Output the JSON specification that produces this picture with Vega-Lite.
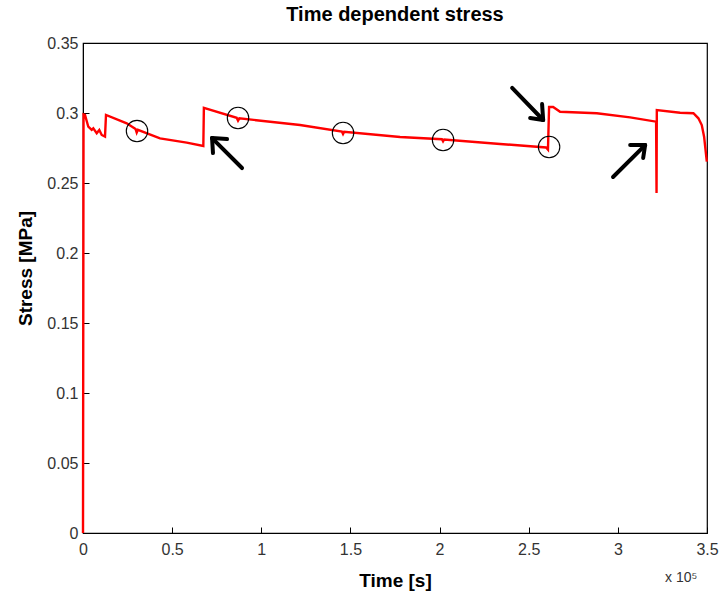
{
  "$schema": "https://vega.github.io/schema/vega-lite/v6.json",
  "width": 624,
  "height": 490,
  "autosize": {"type": "none"},
  "padding": {"left": 83, "top": 43, "right": 16, "bottom": 66},
  "background": "white",
  "config": {
    "view": {"stroke": "black", "strokeWidth": 1.2},
    "font": "Liberation Sans",
    "axis": {
      "domainColor": "black",
      "tickColor": "black",
      "tickSize": -6,
      "grid": false,
      "labelFlush": false,
      "labelFont": "Liberation Sans",
      "labelFontSize": 16,
      "labelColor": "#333333",
      "titleFont": "Liberation Sans",
      "titleFontWeight": "bold",
      "titleColor": "black",
      "titleFontSize": 19
    }
  },
  "title": {
    "text": "Time dependent stress",
    "font": "Liberation Sans",
    "fontSize": 20,
    "fontWeight": "bold",
    "color": "black",
    "offset": 10,
    "anchor": "middle"
  },
  "datasets": {
    "stress": [
      {"t": 0, "s": 0},
      {"t": 300, "s": 0.2990},
      {"t": 1122, "s": 0.2986},
      {"t": 2973, "s": 0.2902},
      {"t": 4881, "s": 0.2879},
      {"t": 5778, "s": 0.2890},
      {"t": 7686, "s": 0.2855},
      {"t": 9144, "s": 0.2879},
      {"t": 10491, "s": 0.2843},
      {"t": 12342, "s": 0.2831},
      {"t": 12900, "s": 0.2986},
      {"t": 24516, "s": 0.2926},
      {"t": 29500, "s": 0.2885},
      {"t": 30126, "s": 0.2860},
      {"t": 30800, "s": 0.2880},
      {"t": 43197, "s": 0.2819},
      {"t": 58176, "s": 0.2788},
      {"t": 67488, "s": 0.2764},
      {"t": 67800, "s": 0.3036},
      {"t": 86200, "s": 0.2966},
      {"t": 86955, "s": 0.2945},
      {"t": 87700, "s": 0.2962},
      {"t": 121737, "s": 0.2914},
      {"t": 145200, "s": 0.2868},
      {"t": 145860, "s": 0.2850},
      {"t": 146500, "s": 0.2866},
      {"t": 177837, "s": 0.2829},
      {"t": 201300, "s": 0.2813},
      {"t": 201960, "s": 0.2798},
      {"t": 202600, "s": 0.2811},
      {"t": 233937, "s": 0.2779},
      {"t": 259743, "s": 0.2754},
      {"t": 260800, "s": 0.2738},
      {"t": 261426, "s": 0.3043},
      {"t": 263700, "s": 0.3043},
      {"t": 267597, "s": 0.3009},
      {"t": 288186, "s": 0.2998},
      {"t": 306867, "s": 0.2969},
      {"t": 321453, "s": 0.2938},
      {"t": 321700, "s": 0.2429},
      {"t": 321850, "s": 0.3021},
      {"t": 334917, "s": 0.3002},
      {"t": 342381, "s": 0.2998},
      {"t": 345177, "s": 0.2962},
      {"t": 347064, "s": 0.2914},
      {"t": 348372, "s": 0.2831},
      {"t": 349887, "s": 0.2652}
    ],
    "circles": [
      {"t": 30294, "s": 0.2871},
      {"t": 86955, "s": 0.2964},
      {"t": 145860, "s": 0.2857},
      {"t": 201960, "s": 0.2807},
      {"t": 261426, "s": 0.2757}
    ],
    "arrows": [
      {"t1": 89200, "s1": 0.2607, "t2": 72400, "s2": 0.2821},
      {"t1": 72400, "s1": 0.2821, "t2": 80800, "s2": 0.2814},
      {"t1": 72400, "s1": 0.2821, "t2": 72900, "s2": 0.2714},
      {"t1": 240700, "s1": 0.3179, "t2": 258100, "s2": 0.2950},
      {"t1": 258100, "s1": 0.2950, "t2": 257500, "s2": 0.3064},
      {"t1": 258100, "s1": 0.2950, "t2": 250800, "s2": 0.2964},
      {"t1": 297300, "s1": 0.2543, "t2": 315300, "s2": 0.2771},
      {"t1": 315300, "s1": 0.2771, "t2": 306900, "s2": 0.2771},
      {"t1": 315300, "s1": 0.2771, "t2": 314200, "s2": 0.2679}
    ],
    "note": [
      {"t": 326500, "s": -0.0321, "label": "x 10⁵"}
    ]
  },
  "layer": [
    {
      "data": {"name": "stress"},
      "mark": {"type": "line", "color": "#ff0000", "strokeWidth": 2.4, "clip": false},
      "encoding": {
        "x": {
          "field": "t", "type": "quantitative",
          "scale": {"domain": [0, 350000], "nice": false, "zero": false},
          "axis": {
            "title": "Time [s]",
            "values": [0, 50000, 100000, 150000, 200000, 250000, 300000, 350000],
            "labelExpr": "format(datum.value / 100000, '~g')",
            "labelPadding": 14,
            "titlePadding": 14
          }
        },
        "y": {
          "field": "s", "type": "quantitative",
          "scale": {"domain": [0, 0.35], "nice": false},
          "axis": {
            "title": "Stress [MPa]",
            "values": [0, 0.05, 0.1, 0.15, 0.2, 0.25, 0.3, 0.35],
            "format": "~g",
            "labelPadding": 11,
            "titlePadding": 11,
            "titleY": 225
          }
        }
      }
    },
    {
      "data": {"name": "circles"},
      "mark": {"type": "point", "shape": "circle", "size": 460, "filled": false, "stroke": "black", "strokeWidth": 1.1, "opacity": 1},
      "encoding": {
        "x": {"field": "t", "type": "quantitative"},
        "y": {"field": "s", "type": "quantitative"}
      }
    },
    {
      "data": {"name": "arrows"},
      "mark": {"type": "rule", "color": "black", "strokeWidth": 4, "strokeCap": "round"},
      "encoding": {
        "x": {"field": "t1", "type": "quantitative"},
        "y": {"field": "s1", "type": "quantitative"},
        "x2": {"field": "t2"},
        "y2": {"field": "s2"}
      }
    },
    {
      "data": {"name": "note"},
      "mark": {"type": "text", "fontSize": 14, "color": "#333333", "align": "left", "baseline": "middle", "font": "Liberation Sans"},
      "encoding": {
        "x": {"field": "t", "type": "quantitative"},
        "y": {"field": "s", "type": "quantitative"},
        "text": {"field": "label"}
      }
    }
  ]
}
